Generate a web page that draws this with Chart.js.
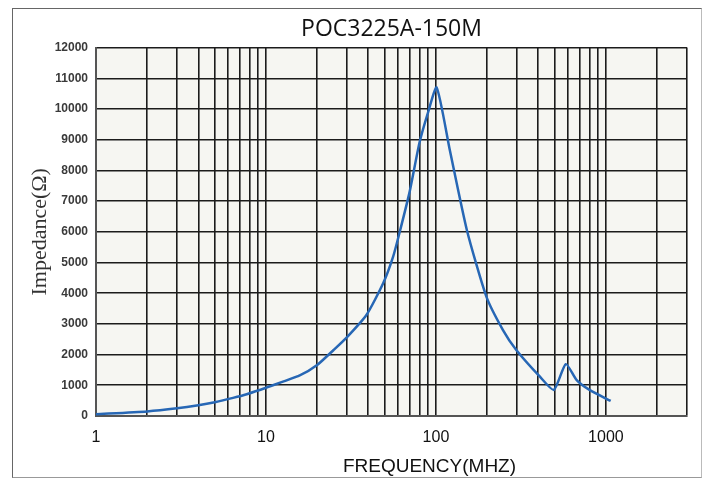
<!DOCTYPE html>
<html lang="en">
<head>
    <meta charset="UTF-8">
    <title>POC3225A-150M</title>
    <script src="https://cdn.jsdelivr.net/npm/chart.js"></script>
    <style>
        body { margin: 0; background: #fff; }
        #frame { position: absolute; left: 12px; top: 8px; width: 688px; height: 468px; border: 1px solid #666; border-right-color: #bbb; border-bottom-color: #999; }
        #wrap { position: absolute; left: 0; top: 0; width: 712px; height: 483px; }
    </style>
</head>
<body>
    <div id="frame"></div>
    <div id="wrap"><canvas id="impChart"></canvas></div>

    <script>
        // frequency (MHz) and impedance (ohm)
        const freq = [1, 2, 3, 4, 5, 6.4, 7.7, 10, 15.8, 20, 25, 30, 39, 49, 56, 61, 70, 80, 90, 101, 121, 152, 198, 248, 297, 409, 494, 581, 673, 801, 1067];
        const impedance = [60, 150, 250, 350, 450, 590, 710, 920, 1320, 1660, 2150, 2570, 3290, 4330, 5190, 5960, 7300, 8900, 9900, 10700, 8630, 6060, 3890, 2800, 2150, 1280, 850, 1690, 1170, 850, 490];

        // vertical grid lines and labelled decades
        const xGrid = [1, 2, 3, 4, 5, 6, 7, 8, 9, 10, 20, 30, 40, 50, 60, 70, 80, 90, 100, 200, 300, 400, 500, 600, 700, 800, 900, 1000, 2000, 3000];
        const xLabels = [1, 10, 100, 1000];

        const plotBg = {
            id: 'plotBg',
            beforeDraw(chart) {
                const { ctx, chartArea: a } = chart;
                ctx.save();
                ctx.fillStyle = '#f6f6f2';
                ctx.fillRect(a.left, a.top, a.right - a.left, a.bottom - a.top);
                ctx.restore();
            }
        };

        // x axis title sits a bit right of centre in the original
        const xTitle = {
            id: 'xTitle',
            afterDraw(chart) {
                const { ctx, chartArea: a } = chart;
                ctx.save();
                ctx.font = '19px "Liberation Sans", Arial, sans-serif';
                ctx.fillStyle = '#111';
                ctx.textAlign = 'center';
                ctx.textBaseline = 'middle';
                ctx.fillText('FREQUENCY(MHZ)', (a.left + a.right) / 2 + 38, a.bottom + 51);
                ctx.restore();
            }
        };

        const ctx = document.getElementById('impChart').getContext('2d');
        new Chart(ctx, {
            type: 'line',
            data: {
                datasets: [{
                    data: freq.map((f, i) => ({ x: f, y: impedance[i] })),
                    borderColor: '#2767b5',
                    borderWidth: 2.5,
                    pointRadius: 0,
                    tension: 0.2,
                    fill: false
                }]
            },
            options: {
                responsive: true,
                maintainAspectRatio: false,
                animation: false,
                layout: { padding: { left: 27, right: 25, top: 0, bottom: 0 } },
                plugins: {
                    legend: { display: false },
                    tooltip: { enabled: false },
                    title: {
                        display: true,
                        text: 'POC3225A-150M',
                        fullSize: false,
                        color: '#111',
                        font: { family: '"Open Sans", "Liberation Sans", sans-serif', size: 23, weight: 'normal' },
                        padding: { top: 16, bottom: 4 }
                    }
                },
                scales: {
                    x: {
                        type: 'logarithmic',
                        min: 1,
                        max: 3000,
                        afterBuildTicks: (scale) => { scale.ticks = xGrid.map(v => ({ value: v })); },
                        afterFit: (scale) => { scale.height = 67; },
                        grid: { color: '#1c1c1c', lineWidth: 1.6, drawTicks: false },
                        border: { color: '#555', width: 2 },
                        ticks: {
                            autoSkip: false,
                            maxRotation: 0,
                            padding: 12,
                            color: '#111',
                            font: { family: '"Liberation Sans", Arial, sans-serif', size: 16 },
                            callback: (v) => xLabels.includes(v) ? String(v) : ''
                        }
                    },
                    y: {
                        min: 0,
                        max: 12000,
                        afterFit: (scale) => { scale.width = 69; },
                        grid: { color: '#1c1c1c', lineWidth: 1.6, drawTicks: false },
                        border: { color: '#555', width: 2 },
                        ticks: {
                            stepSize: 1000,
                            padding: 8,
                            color: '#3a3a3a',
                            font: { family: '"Liberation Sans", Arial, sans-serif', size: 12, weight: 'bold' },
                            callback: (v) => String(v)
                        },
                        title: {
                            display: true,
                            text: 'Impedance(Ω)',
                            color: '#333',
                            padding: { top: 0, bottom: 2 },
                            font: { family: '"Liberation Serif", "DejaVu Serif", serif', size: 22 }
                        }
                    }
                }
            },
            plugins: [plotBg, xTitle]
        });
    </script>
</body>
</html>
